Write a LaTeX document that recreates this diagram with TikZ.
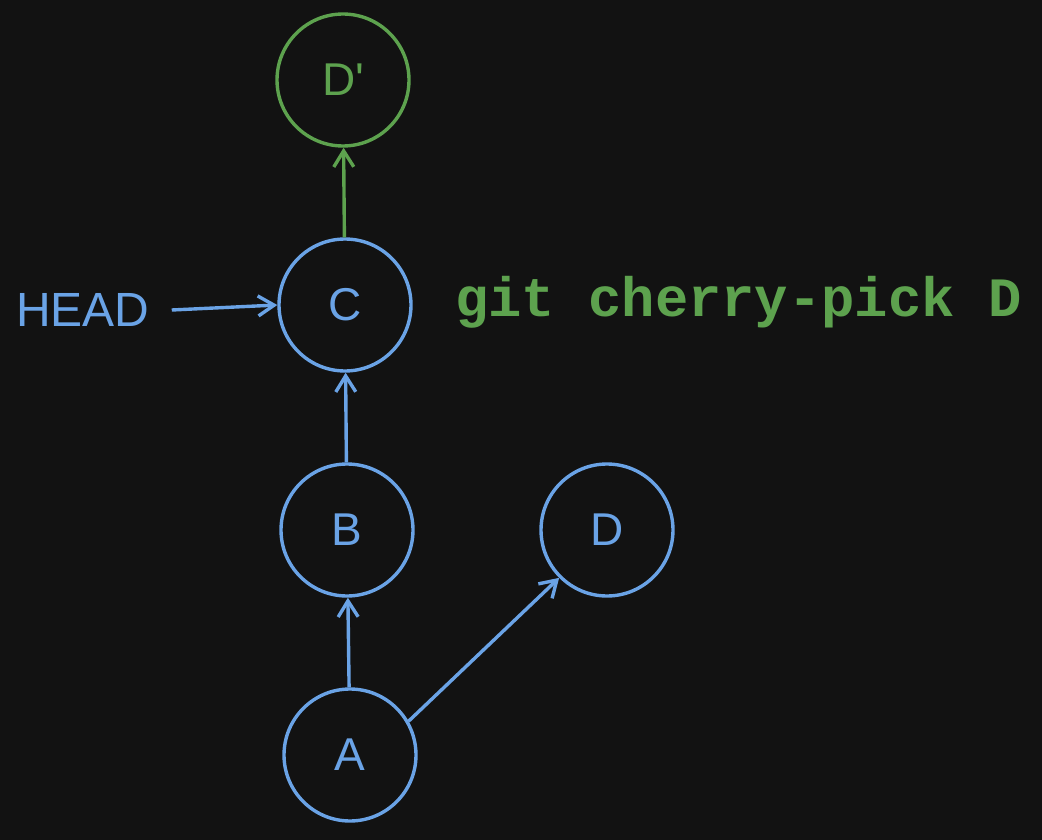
\documentclass[tikz,border=0pt]{standalone}
\usepackage{fontspec}
\setmainfont{Liberation Sans}
\setmonofont{Liberation Mono}
\usetikzlibrary{arrows.meta}
\definecolor{bg}{HTML}{121212}
\definecolor{bl}{HTML}{6AA3E6}
\definecolor{gr}{HTML}{5DA24E}
\begin{document}
\begin{tikzpicture}[x=1pt,y=-1pt,
  commit/.style={circle,draw=#1,line width=3.4pt,minimum size=132pt,inner sep=0pt,text=#1,font=\fontsize{46}{50}\selectfont},
  link/.style={draw=#1,line width=3.4pt,-{Straight Barb[length=16pt,width=20pt,line width=3.4pt]}},
  lab/.style={text=#1,inner sep=0pt}]
\fill[bg] (0,0) rectangle (1042,840);
\useasboundingbox (0,0) rectangle (1042,840);
\node[commit=gr] (Dp) at (343,80) {D\textquotesingle};
\node[commit=bl] (C) at (345,305) {C};
\node[commit=bl] (B) at (347,530) {B};
\node[commit=bl] (D) at (607,530) {D};
\node[commit=bl] (A) at (350,755) {A};
\node[lab=bl,font=\fontsize{48}{52}\selectfont,anchor=west] (H) at (16,310) {HEAD};
\node[lab=gr,font=\ttfamily\bfseries\fontsize{55.5}{58}\selectfont,anchor=west] (G) at (455,302) {git cherry-pick D};
\draw[link=bl] (A) -- (B);
\draw[link=bl] (B) -- (C);
\draw[link=gr] (C) -- (Dp);
\draw[link=bl] (A.30) -- (D.225);
\draw[link=bl] (H.east) ++(22,0) -- (C.west);
\end{tikzpicture}
\end{document}
